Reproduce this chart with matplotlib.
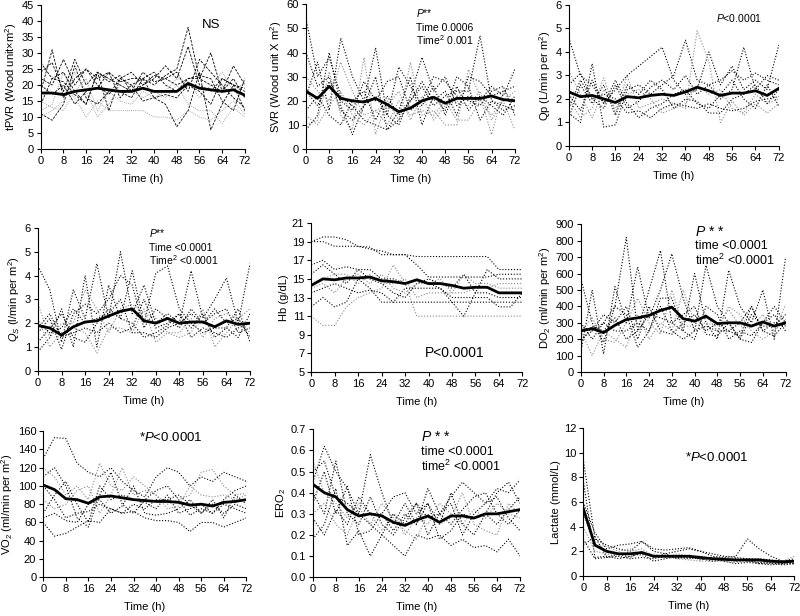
import numpy as np
import matplotlib
matplotlib.use("Agg")
import matplotlib.pyplot as plt

plt.rcParams['font.family'] = ['Liberation Sans', 'DejaVu Sans']
plt.rcParams['mathtext.fontset'] = 'custom'
plt.rcParams['mathtext.rm'] = 'Liberation Sans'
plt.rcParams['mathtext.it'] = 'Liberation Sans:italic'

hours = [0, 4, 8, 12, 16, 20, 24, 28, 32, 36, 40, 44, 48, 52, 56, 60, 64, 68, 72]

# group means (thick line)
tpvr_mean = [17.5, 17.5, 17, 18, 18.5, 19, 18.5, 18, 18, 19, 18, 18, 18, 20.5, 19, 18.5, 18, 18.5, 16.8]
svr_mean = [24, 21, 26, 21, 20, 19.5, 21, 18.5, 15.5, 17, 20, 21.5, 19, 21, 21, 21, 22, 20.5, 20]
qp_mean = [2.3, 2.1, 2.15, 2.0, 1.85, 2.1, 2.05, 2.15, 2.2, 2.15, 2.3, 2.5, 2.35, 2.15, 2.25, 2.25, 2.35, 2.15, 2.45]
qs_mean = [1.9, 1.8, 1.5, 1.85, 2.05, 2.1, 2.3, 2.5, 2.6, 2.1, 2.0, 2.2, 2.0, 2.05, 2.05, 1.85, 2.1, 1.95, 2.0]
hb_mean = [14.3, 15.0, 14.9, 15.1, 15.1, 15.2, 14.8, 14.7, 14.5, 14.9, 14.5, 14.5, 14.3, 14.0, 14.1, 14.1, 13.5, 13.5, 13.5]
do2_mean = [250, 265, 240, 285, 320, 330, 345, 375, 395, 325, 310, 340, 295, 300, 300, 280, 305, 280, 300]
vo2_mean = [101, 96, 86, 85, 81, 88, 89, 87, 85, 84, 83, 83, 82, 79, 80, 78, 82, 83, 85]
ero2_mean = [0.44, 0.40, 0.38, 0.32, 0.29, 0.30, 0.29, 0.26, 0.245, 0.27, 0.29, 0.26, 0.29, 0.29, 0.28, 0.30, 0.30, 0.31, 0.32]
lact_mean = [5.5, 2.5, 2.0, 1.8, 1.8, 1.9, 1.6, 1.6, 1.6, 1.6, 1.5, 1.4, 1.35, 1.3, 1.3, 1.3, 1.2, 1.15, 1.2]

# individual patients
tpvr_pts = [
    [24, 27, 18, 28, 20, 24, 22, 20, 18, 20, 22, 26, 22, 32, 20, 18, 22, 20, 18],
    [18, 31, 16, 22, 25, 22, 24, 21, 22, 22, 20, 23, 25, 38, 22, 20, 18, 26, 20],
    [12, 14, 24, 16, 10, 15, 12, 12, 12, 12, 10, 10, 9, 12, 10, 9, 12, 15, 11],
    [11, 9, 14, 26, 16, 14, 18, 18, 16, 22, 16, 14, 7, 12, 24, 6, 14, 20, 12],
    [22, 20, 28, 20, 25, 20, 17, 22, 20, 22, 24, 20, 18, 22, 22, 30, 18, 22, 16],
    [15, 13, 12, 18, 22, 12, 18, 15, 14, 18, 16, 18, 22, 21, 16, 20, 24, 18, 21],
    [27, 22, 24, 18, 14, 24, 12, 22, 24, 20, 23, 22, 20, 22, 23, 22, 15, 12, 22],
    [20, 17, 20, 14, 18, 19, 24, 16, 20, 15, 16, 17, 16, 20, 18, 14, 22, 20, 19],
    [10, 12, 15, 24, 18, 10, 14, 20, 18, 16, 18, 16, 20, 14, 12, 12, 8, 13, 10],
    [14, 22, 21, 17, 14, 24, 21, 23, 18, 24, 21, 22, 24, 18, 28, 24, 20, 16, 13],
]
svr_pts = [
    [54, 30, 38, 22, 18, 12, 10, 8, 12, 20, 26, 18, 22, 24, 24, 47, 20, 18, 16],
    [22, 36, 16, 46, 30, 20, 42, 14, 10, 22, 38, 24, 30, 18, 22, 20, 26, 22, 33],
    [10, 12, 32, 14, 8, 38, 6, 20, 12, 36, 14, 16, 10, 10, 33, 22, 6, 24, 20],
    [24, 18, 28, 20, 16, 28, 20, 28, 30, 16, 20, 30, 28, 22, 20, 18, 24, 26, 14],
    [8, 14, 40, 18, 6, 18, 30, 8, 16, 30, 10, 22, 16, 30, 26, 12, 20, 16, 18],
    [30, 24, 20, 36, 24, 14, 16, 18, 24, 12, 22, 12, 18, 20, 18, 24, 12, 20, 8],
    [16, 22, 14, 10, 20, 24, 12, 22, 14, 20, 28, 20, 24, 14, 30, 28, 22, 24, 26],
    [40, 26, 30, 16, 12, 18, 22, 14, 34, 26, 18, 26, 14, 26, 16, 22, 18, 14, 22],
    [14, 10, 18, 24, 14, 10, 16, 10, 20, 14, 16, 14, 20, 12, 12, 20, 14, 20, 24],
]
qp_pts = [
    [4.6, 3.0, 2.6, 1.8, 2.4, 3.0, 3.4, 3.8, 4.2, 2.8, 2.2, 2.4, 4.0, 2.6, 3.4, 2.4, 2.8, 2.4, 4.3],
    [1.4, 1.0, 3.5, 0.8, 0.9, 2.4, 2.6, 2.2, 2.6, 3.0, 4.5, 2.8, 2.6, 2.0, 2.4, 4.2, 2.4, 3.0, 2.8],
    [2.0, 1.2, 1.6, 2.9, 1.4, 3.0, 1.6, 1.8, 2.0, 1.8, 1.6, 4.9, 3.6, 1.0, 1.9, 1.3, 1.8, 1.4, 1.8],
    [2.6, 3.1, 2.0, 2.2, 2.0, 1.4, 1.5, 1.2, 1.6, 1.8, 1.7, 1.6, 1.8, 1.6, 1.5, 1.6, 1.9, 2.0, 2.1],
    [1.6, 2.8, 2.0, 1.6, 2.6, 1.6, 1.9, 2.5, 2.8, 2.4, 3.0, 2.2, 2.6, 2.8, 3.2, 2.8, 3.1, 2.8, 2.6],
    [3.2, 2.2, 1.2, 2.4, 1.6, 2.2, 2.4, 2.0, 1.4, 1.6, 1.8, 2.6, 2.2, 2.4, 1.6, 1.4, 2.2, 1.8, 2.0],
    [2.2, 1.5, 2.8, 1.8, 2.8, 1.8, 1.2, 1.6, 1.8, 2.2, 2.4, 1.8, 1.6, 2.2, 2.8, 2.0, 1.6, 2.6, 1.7],
    [1.2, 2.6, 1.8, 2.6, 1.3, 2.6, 2.2, 2.8, 2.4, 1.6, 2.0, 1.9, 1.4, 1.4, 2.0, 2.2, 2.6, 1.8, 2.4],
]
qs_pts = [
    [4.4, 3.4, 1.2, 3.4, 2.2, 4.5, 2.2, 5.0, 2.4, 3.6, 2.0, 2.4, 2.0, 4.2, 2.2, 3.0, 3.9, 2.0, 4.5],
    [0.8, 1.4, 2.6, 1.0, 4.0, 1.0, 3.6, 2.2, 4.2, 2.0, 4.1, 4.4, 2.6, 2.0, 1.6, 1.8, 1.8, 2.6, 1.2],
    [2.2, 1.0, 1.6, 1.8, 1.6, 0.75, 1.8, 1.8, 1.6, 2.6, 1.2, 1.6, 1.4, 1.6, 2.6, 1.0, 1.6, 2.2, 2.6],
    [1.6, 2.2, 0.9, 2.4, 2.8, 2.4, 3.0, 4.0, 3.6, 1.8, 2.6, 2.2, 1.8, 2.6, 2.0, 2.4, 2.6, 1.6, 1.8],
    [1.2, 1.8, 2.4, 1.4, 1.2, 2.0, 2.6, 2.2, 2.0, 1.4, 1.6, 1.9, 2.4, 1.4, 1.8, 1.6, 1.4, 1.8, 2.0],
    [2.8, 1.4, 2.0, 2.0, 3.4, 2.6, 1.6, 2.6, 2.8, 2.4, 2.2, 1.6, 1.6, 2.2, 1.4, 2.2, 2.4, 2.2, 1.6],
    [1.8, 2.4, 1.4, 1.6, 1.8, 1.6, 2.0, 1.6, 1.8, 3.0, 1.8, 2.0, 2.4, 1.8, 2.4, 1.4, 1.8, 1.4, 2.4],
    [2.0, 1.6, 1.8, 2.6, 2.0, 2.2, 2.4, 3.0, 1.6, 1.6, 1.4, 1.8, 2.0, 2.4, 2.0, 2.6, 2.0, 2.2, 1.4],
]
hb_pts = [
    [19.0, 19.5, 19.5, 19.2, 18.5, 18.4, 17.6, 17.6, 17.6, 17.4, 17.4, 17.4, 17.4, 17.4, 17.4, 17.4, 16.0, 16.0, 16.0],
    [19.0, 19.0, 18.5, 18.5, 18.5, 18.2, 18.0, 17.6, 17.6, 16.5, 15.2, 15.2, 15.2, 15.2, 15.2, 15.2, 15.5, 15.5, 15.5],
    [11.0, 10.0, 10.0, 12.0, 13.0, 13.5, 14.0, 16.5, 14.5, 11.0, 11.0, 11.0, 11.0, 11.0, 11.0, 11.0, 11.0, 11.0, 11.0],
    [15.5, 16.5, 15.5, 14.5, 16.0, 15.0, 14.5, 13.5, 13.0, 14.5, 15.0, 14.5, 14.0, 15.5, 13.5, 16.0, 15.0, 15.0, 15.0],
    [12.0, 13.0, 12.0, 12.5, 15.0, 14.0, 12.5, 12.5, 14.0, 14.0, 14.0, 14.0, 13.0, 13.0, 13.0, 13.0, 12.0, 12.0, 13.5],
    [14.5, 15.0, 15.5, 15.5, 14.5, 15.5, 14.5, 14.5, 15.0, 13.0, 13.5, 13.5, 13.5, 13.5, 14.0, 14.0, 14.5, 14.5, 14.5],
    [16.5, 17.0, 16.0, 16.3, 16.0, 16.0, 15.0, 15.0, 14.5, 15.0, 14.5, 14.0, 12.5, 11.0, 13.5, 13.5, 13.0, 13.0, 13.0],
    [13.5, 14.0, 14.5, 14.0, 13.5, 13.8, 13.5, 12.5, 12.5, 12.5, 12.5, 12.5, 12.5, 12.5, 12.5, 12.5, 12.5, 12.5, 12.5],
    [14.0, 14.5, 13.5, 15.0, 15.5, 14.5, 15.5, 14.0, 13.5, 14.5, 14.5, 15.0, 13.5, 15.5, 14.5, 14.5, 14.0, 14.0, 14.0],
]
do2_pts = [
    [570, 300, 180, 400, 820, 250, 500, 740, 300, 250, 600, 300, 200, 620, 400, 300, 500, 200, 700],
    [120, 500, 110, 520, 300, 640, 330, 500, 720, 450, 250, 650, 400, 300, 200, 180, 300, 400, 300],
    [250, 100, 250, 200, 150, 350, 200, 300, 250, 500, 300, 350, 250, 400, 350, 250, 200, 250, 410],
    [200, 250, 350, 300, 400, 200, 400, 250, 230, 300, 350, 250, 300, 250, 300, 400, 250, 300, 280],
    [300, 200, 300, 250, 250, 300, 250, 450, 450, 250, 200, 400, 350, 200, 250, 220, 300, 350, 250],
    [250, 330, 200, 180, 300, 450, 300, 230, 500, 280, 280, 300, 280, 380, 280, 270, 350, 250, 320],
    [180, 280, 250, 330, 200, 250, 350, 330, 300, 350, 400, 230, 220, 300, 200, 350, 280, 280, 350],
    [280, 250, 300, 400, 350, 150, 250, 400, 250, 200, 250, 280, 250, 250, 220, 400, 250, 220, 300],
]
vo2_pts = [
    [130, 153, 152, 125, 115, 110, 120, 105, 95, 88, 110, 120, 115, 100, 110, 105, 115, 110, 105],
    [60, 45, 48, 55, 62, 60, 75, 70, 72, 65, 62, 62, 60, 50, 60, 60, 55, 60, 65],
    [120, 110, 90, 100, 85, 125, 100, 95, 110, 100, 90, 80, 85, 90, 115, 118, 100, 90, 92],
    [70, 90, 105, 80, 60, 100, 85, 90, 85, 82, 75, 90, 70, 75, 80, 70, 85, 95, 100],
    [100, 85, 65, 70, 72, 80, 75, 70, 80, 75, 85, 85, 90, 80, 70, 80, 70, 80, 75],
    [85, 75, 80, 95, 100, 70, 90, 120, 90, 95, 90, 75, 78, 100, 90, 88, 90, 85, 90],
    [110, 120, 100, 65, 55, 90, 115, 80, 70, 85, 95, 100, 85, 68, 75, 70, 80, 75, 70],
    [65, 70, 62, 60, 80, 85, 70, 78, 100, 70, 68, 70, 75, 85, 70, 85, 65, 90, 80],
]
ero2_pts = [
    [0.45, 0.62, 0.50, 0.42, 0.30, 0.58, 0.40, 0.25, 0.35, 0.25, 0.42, 0.30, 0.38, 0.45, 0.40, 0.35, 0.42, 0.40, 0.46],
    [0.18, 0.25, 0.42, 0.15, 0.22, 0.10, 0.20, 0.15, 0.10, 0.20, 0.18, 0.20, 0.15, 0.18, 0.14, 0.15, 0.12, 0.18, 0.10],
    [0.55, 0.40, 0.35, 0.28, 0.35, 0.30, 0.22, 0.30, 0.20, 0.28, 0.25, 0.35, 0.30, 0.25, 0.32, 0.28, 0.35, 0.30, 0.28],
    [0.35, 0.50, 0.30, 0.43, 0.20, 0.22, 0.30, 0.38, 0.40, 0.30, 0.35, 0.25, 0.40, 0.25, 0.20, 0.30, 0.40, 0.45, 0.35],
    [0.40, 0.30, 0.55, 0.30, 0.25, 0.38, 0.25, 0.20, 0.28, 0.35, 0.20, 0.30, 0.25, 0.32, 0.38, 0.40, 0.30, 0.25, 0.32],
    [0.30, 0.35, 0.25, 0.20, 0.33, 0.25, 0.35, 0.28, 0.22, 0.18, 0.30, 0.25, 0.28, 0.40, 0.25, 0.22, 0.20, 0.35, 0.30],
    [0.50, 0.55, 0.38, 0.35, 0.30, 0.25, 0.20, 0.30, 0.25, 0.35, 0.28, 0.30, 0.35, 0.20, 0.30, 0.35, 0.38, 0.28, 0.22],
    [0.28, 0.20, 0.32, 0.25, 0.38, 0.30, 0.30, 0.22, 0.30, 0.25, 0.35, 0.18, 0.22, 0.30, 0.28, 0.30, 0.25, 0.32, 0.38],
]
lact_pts = [
    [9.5, 3.0, 2.5, 2.2, 2.0, 2.8, 2.0, 1.8, 2.0, 2.2, 2.0, 1.6, 1.5, 1.6, 3.0, 2.2, 1.6, 1.2, 1.0],
    [7.8, 1.5, 1.6, 1.4, 1.6, 1.8, 1.2, 1.4, 1.6, 1.5, 1.4, 1.2, 1.3, 1.4, 1.2, 1.1, 1.0, 1.0, 1.0],
    [4.0, 2.0, 1.8, 1.6, 2.0, 2.2, 1.6, 1.5, 1.4, 1.3, 1.2, 1.2, 1.2, 1.1, 1.2, 1.2, 1.0, 1.2, 1.6],
    [6.0, 3.5, 2.2, 2.5, 2.6, 2.8, 2.2, 2.1, 2.2, 2.3, 2.0, 1.8, 1.6, 1.5, 1.4, 1.4, 1.3, 1.2, 1.4],
    [3.0, 1.4, 1.5, 1.6, 1.4, 1.5, 1.4, 1.6, 1.5, 1.4, 1.5, 1.4, 1.2, 1.0, 1.1, 1.0, 1.1, 0.9, 1.0],
    [5.0, 2.5, 2.4, 2.0, 2.2, 1.6, 1.8, 1.5, 1.8, 1.6, 1.6, 1.4, 1.5, 1.3, 1.4, 1.2, 1.2, 1.1, 1.2],
    [2.5, 3.2, 1.5, 1.8, 1.5, 2.0, 1.5, 1.8, 1.4, 1.7, 1.3, 1.5, 1.4, 1.2, 1.3, 1.0, 0.9, 1.0, 1.2],
]

# (axes rect, ylabel, ylim, ystep, patients, mean, annotations, dashed lines?)
panels = [
    ([0.051, 0.758, 0.255, 0.234], r'tPVR (Wood unit$\times$m$^2$)', (0, 45), 5, tpvr_pts, tpvr_mean,
     [(0.79, 0.86, 'NS', 9.5)], True),
    ([0.3825, 0.758, 0.261, 0.235], r'SVR (Wood unit X m$^2$)', (0, 60), 10, svr_pts, svr_mean,
     [(0.525, 0.94, r'$P$**', 7.5), (0.525, 0.835, 'Time 0.0006', 7.5), (0.525, 0.75, r'Time$^2$ 0.001', 7.5)], False),
    ([0.711, 0.763, 0.2625, 0.229], r'Qp (L/min per m$^2$)', (0, 6), 1, qp_pts, qp_mean,
     [(0.70, 0.905, r'$P$<0.0001', 7.5)], False),
    ([0.0475, 0.398, 0.265, 0.232], r'$Q_S$ (l/min per m$^2$)', (0, 6), 1, qs_pts, qs_mean,
     [(0.525, 0.965, r'$P$**', 7.5), (0.525, 0.86, 'Time <0.0001', 7.5), (0.525, 0.775, r'Time$^2$ <0.0001', 7.5)], False),
    ([0.389, 0.396, 0.264, 0.242], 'Hb (g/dL)', (5, 21), 2, hb_pts, hb_mean,
     [(0.54, 0.13, 'P<0.0001', 10)], False),
    ([0.726, 0.396, 0.256, 0.240], r'DO$_2$ (ml/min per m$^2$)', (0, 900), 100, do2_pts, do2_mean,
     [(0.56, 0.95, r'$P$ * *', 10), (0.56, 0.85, 'time <0.0001', 9), (0.56, 0.755, r'time$^2$ <0.0001', 9)], False),
    ([0.054, 0.063, 0.254, 0.237], r'VO$_2$ (ml/min per m$^2$)', (0, 160), 20, vo2_pts, vo2_mean,
     [(0.47, 0.955, r'*$P$<0.0001', 9.5)], False),
    ([0.391, 0.063, 0.259, 0.240], r'ERO$_2$', (0, 0.7), 0.1, ero2_pts, ero2_mean,
     [(0.52, 0.945, r'$P$ * *', 10), (0.52, 0.845, 'time <0.0001', 9), (0.52, 0.75, r'time$^2$ <0.0001', 9)], False),
    ([0.729, 0.065, 0.264, 0.240], 'Lactate (mmol/L)', (0, 12), 2, lact_pts, lact_mean,
     [(0.48, 0.80, r'*$P$<0.0001', 9.5)], False),
]

fig = plt.figure(figsize=(8, 6.16), dpi=100)

for rect, ylab, ylim, ystep, pts, mean, notes, dashed in panels:
    ax = fig.add_axes(rect)
    for k, series in enumerate(pts):
        col = 'black' if k % 3 != 2 else '#8a8a8a'
        if dashed:
            ls = (0, (3, 1.5)) if k % 3 != 2 else (0, (1, 1.5))
            lw = 0.6
        else:
            ls = (0, (1, 1.6))
            lw = 0.8
        ax.plot(hours, series, color=col, lw=lw, linestyle=ls)
    ax.plot(hours, mean, color='black', lw=2.0, solid_joinstyle='round')

    ax.set_xlim(0, 72)
    ax.set_ylim(*ylim)
    ax.set_xticks(np.arange(0, 73, 8))
    ax.set_yticks(np.arange(ylim[0], ylim[1] + ystep / 2, ystep))
    if ystep < 1:
        ax.set_yticklabels(['%.1f' % v for v in np.arange(ylim[0], ylim[1] + ystep / 2, ystep)])
    ax.spines['top'].set_visible(False)
    ax.spines['right'].set_visible(False)
    ax.spines['left'].set_linewidth(0.8)
    ax.spines['bottom'].set_linewidth(0.8)
    ax.tick_params(direction='out', length=3, width=0.8, labelsize=8, pad=2)
    ax.set_xlabel('Time (h)', fontsize=8, labelpad=6)
    ax.set_ylabel(ylab, fontsize=8, labelpad=2)
    for tx, ty, s, fs in notes:
        ax.text(tx, ty, s, transform=ax.transAxes, ha='left', va='center', fontsize=fs)

fig.savefig('out.png', dpi=100)
